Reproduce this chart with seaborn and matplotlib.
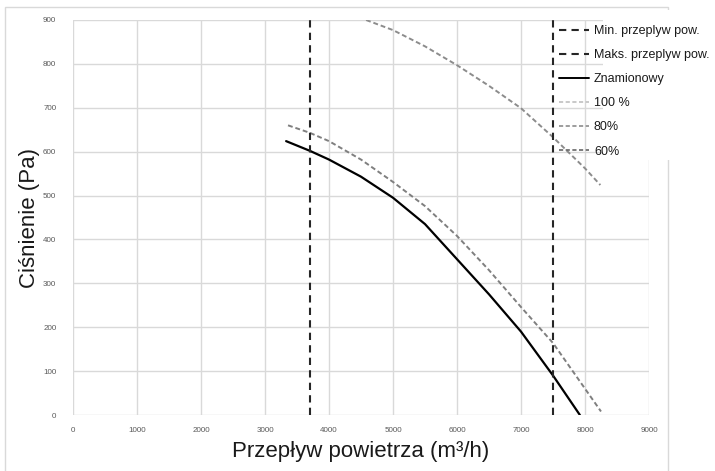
import numpy as np
import pandas as pd
import matplotlib
matplotlib.use("Agg")
import matplotlib.pyplot as plt
import seaborn as sns
from matplotlib.lines import Line2D
from matplotlib.patches import Rectangle

# --- data ---
min_flow = 3700
max_flow = 7500

nominal_flow = [3330, 3700, 4000, 4500, 5000, 5500, 6000, 6500, 7000, 7500, 7920]
nominal_pa = [624, 602, 582, 543, 495, 435, 355, 275, 190, 90, 0]

p80_flow = [4580, 5000, 5500, 6000, 6500, 7000, 7500, 8000, 8240]
p80_pa = [900, 877, 840, 797, 750, 699, 633, 562, 524]

p60_flow = [3360, 3700, 4000, 4500, 5000, 5500, 6000, 6500, 7000, 7500, 8250]
p60_pa = [660, 643, 624, 582, 531, 476, 408, 330, 246, 164, 8]

x_ticks = list(range(0, 9001, 1000))
y_ticks = list(range(0, 901, 100))

sns.set_theme(style="whitegrid")
plt.rcParams['font.family'] = ['Liberation Sans', 'DejaVu Sans']

fig = plt.figure(figsize=(7.15, 4.71), dpi=100)
ax = fig.add_axes([73 / 715, 1 - 415 / 471, 576 / 715, 395 / 471])

grid_c = '#d9d9d9'
ax.grid(True, color=grid_c, linewidth=1)
ax.set_axisbelow(True)
for s in ax.spines.values():
    s.set_visible(False)

nom = pd.DataFrame({'flow': nominal_flow, 'pa': nominal_pa})
c80 = pd.DataFrame({'flow': p80_flow, 'pa': p80_pa})
c60 = pd.DataFrame({'flow': p60_flow, 'pa': p60_pa})

sns.lineplot(data=nom, x='flow', y='pa', ax=ax, color='black', linewidth=1.6,
             sort=False, zorder=3)
sns.lineplot(data=c80, x='flow', y='pa', ax=ax, color='#8c8c8c', linewidth=1.4,
             sort=False, zorder=3).lines[-1].set_dashes([2.5, 1.5])
sns.lineplot(data=c60, x='flow', y='pa', ax=ax, color='#7f7f7f', linewidth=1.4,
             sort=False, zorder=3).lines[-1].set_dashes([2.5, 1.5])

for xv in (min_flow, max_flow):
    ax.axvline(xv, color='#262626', linewidth=1.5, dashes=(3.5, 2.5), zorder=3)

ax.set_xlim(0, 9000)
ax.set_ylim(0, 900)
ax.set_xticks(x_ticks)
ax.set_yticks(y_ticks)
ax.tick_params(axis='both', labelsize=5.8, colors='#595959', length=0)
ax.tick_params(axis='x', pad=9)
ax.tick_params(axis='y', pad=12)
ax.set_xlabel('Przepływ powietrza (m³/h)', fontsize=16, color='#1a1a1a', labelpad=5)
ax.set_ylabel('Ciśnienie (Pa)', fontsize=16, color='#1a1a1a', labelpad=2)

# chart border
fig.patches.append(Rectangle((5 / 715, -0.01), 663 / 715, 1 - 7 / 471 + 0.01,
                             transform=fig.transFigure, fill=False,
                             edgecolor=grid_c, linewidth=1, zorder=-1))
# white area behind legend text
ax.add_patch(Rectangle((603 / 715, 1 - 160 / 471), 112 / 715, 150 / 471,
                       transform=fig.transFigure, facecolor='white',
                       edgecolor='none', clip_on=False, zorder=1))

handles = [
    Line2D([], [], color='#262626', linewidth=1.5, dashes=(3.5, 2.5)),
    Line2D([], [], color='#262626', linewidth=1.5, dashes=(3.5, 2.5)),
    Line2D([], [], color='black', linewidth=1.4),
    Line2D([], [], color='#c0c0c0', linewidth=1.2, dashes=(2.5, 1.5)),
    Line2D([], [], color='#8c8c8c', linewidth=1.2, dashes=(2.5, 1.5)),
    Line2D([], [], color='#666666', linewidth=1.2, dashes=(2.5, 1.5)),
]
labels = ['Min. przeplyw pow.', 'Maks. przeplyw pow.', 'Znamionowy', '100 %', '80%', '60%']
leg = fig.legend(handles, labels, loc='upper left', bbox_to_anchor=(559 / 715, 1 - 25 / 471),
                 frameon=False, fontsize=9, handlelength=2.4, handletextpad=0.4,
                 labelspacing=0.97, borderpad=0, borderaxespad=0)
for t in leg.get_texts():
    t.set_color('#1a1a1a')

fig.savefig('out.png', dpi=100)
